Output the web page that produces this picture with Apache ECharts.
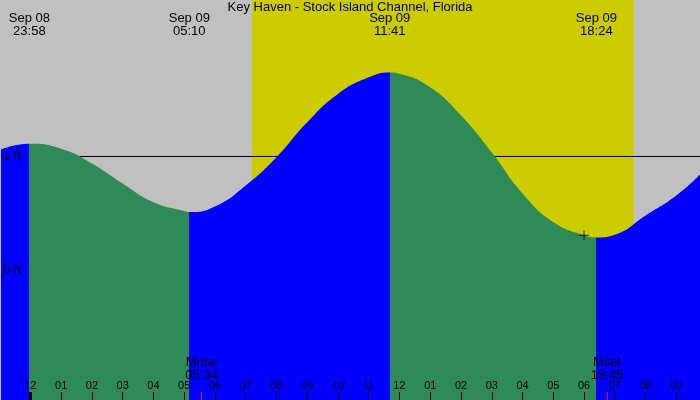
<!DOCTYPE html>
<html>
<head>
<meta charset="utf-8">
<title>Key Haven - Stock Island Channel, Florida</title>
<script src="https://cdn.jsdelivr.net/npm/echarts@6/dist/echarts.min.js"></script>
<style>
  html, body { margin: 0; padding: 0; background: #c0c0c0; }
  #main { width: 700px; height: 400px; }
</style>
</head>
<body>
<div id="main"></div>
<script>
// hours after Sep 09 00:00, heights in ft
const tideHours = [-0.955, -0.033, 1, 2, 3, 4, 5, 5.167, 6, 7, 8, 9, 10, 11, 11.683,
  12, 13, 14, 15, 16, 17, 18, 18.4, 19, 20, 21, 21.77];
const tideHeights = [1.061, 1.111, 1.068, 0.939, 0.763, 0.599, 0.522, 0.513, 0.561, 0.746, 0.994, 1.301, 1.550, 1.696, 1.739,
  1.728, 1.608, 1.360, 1.035, 0.675, 0.424, 0.307, 0.289, 0.313, 0.482, 0.658, 0.842];

// high / low tides (first one is a high)
const extremeHours = [-0.033, 5.167, 11.683, 18.4];
const extremeLabels = ['Sep 08\n23:58', 'Sep 09\n05:10', 'Sep 09\n11:41', 'Sep 09\n18:24'];

const hourTicks = [-1, 0, 1, 2, 3, 4, 5, 6, 7, 8, 9, 10, 11, 12, 13, 14, 15, 16, 17, 18, 19, 20, 21];
const hourLabels = ['11', '12', '01', '02', '03', '04', '05', '06', '07', '08', '09', '10', '11',
  '12', '01', '02', '03', '04', '05', '06', '07', '08', '09'];
const dayTicks = [0];

const moonHours = [5.567, 18.75];
const moonLabels = ['Mrise\n05:34', 'Mset\n18:45'];

const sunrise = 7.2;
const sunset = 19.61;
const datumLevels = [0, 1];
const markHour = 18;

const xMin = -0.955, xMax = 21.77;
const yMin = -1.14, yMax = 2.3754;

const FONT = 'Liberation Sans';
const RISING = '#0000ff';
const FALLING = '#2e8b57';

var chart = echarts.init(document.getElementById('main'));

const tideData = tideHours.map((h, i) => [h, tideHeights[i]]);
const markIdx = tideHours.indexOf(markHour);

// flood before a high, ebb after it
const pieces = [{ lt: extremeHours[0], color: RISING }];
extremeHours.forEach((h, i) => {
  const p = { gte: h, color: i % 2 === 0 ? FALLING : RISING };
  if (i + 1 < extremeHours.length) p.lt = extremeHours[i + 1];
  pieces.push(p);
});

const baseX = {
  type: 'value', min: xMin, max: xMax, z: 10,
  axisLine: { show: false, onZero: false },
  splitLine: { show: false }
};

chart.setOption({
  animation: false,
  title: {
    text: 'Key Haven - Stock Island Channel, Florida',
    left: 'center', top: 1, padding: 0,
    textStyle: { fontFamily: FONT, fontSize: 13, fontWeight: 'normal', color: '#000' }
  },
  grid: { left: 0, right: 0, top: 0, bottom: 0, show: true, backgroundColor: '#c0c0c0', borderWidth: 0 },
  visualMap: { show: false, type: 'piecewise', dimension: 0, seriesIndex: 0, pieces: pieces },
  xAxis: [
    Object.assign({}, baseX, {
      position: 'bottom',
      axisTick: { show: true, inside: true, length: 8, customValues: hourTicks, lineStyle: { color: '#000', width: 1 } },
      axisLabel: {
        inside: true, margin: 9, customValues: hourTicks,
        formatter: v => hourLabels[hourTicks.indexOf(v)],
        fontFamily: FONT, fontSize: 11, color: '#000'
      }
    }),
    Object.assign({}, baseX, {
      position: 'bottom',
      axisTick: { show: true, inside: true, length: 8, customValues: dayTicks, lineStyle: { color: '#000', width: 3 } },
      axisLabel: { show: false }
    }),
    Object.assign({}, baseX, {
      position: 'bottom',
      axisTick: { show: true, inside: true, length: 8, customValues: moonHours, lineStyle: { color: '#ff0000', width: 1 } },
      axisLabel: {
        inside: true, margin: 18, customValues: moonHours,
        formatter: v => moonLabels[moonHours.indexOf(v)],
        fontFamily: FONT, fontSize: 13, lineHeight: 13, color: '#000'
      }
    }),
    Object.assign({}, baseX, {
      position: 'top',
      axisTick: { show: false },
      axisLabel: {
        inside: true, margin: 12, customValues: extremeHours,
        formatter: v => extremeLabels[extremeHours.indexOf(v)],
        fontFamily: FONT, fontSize: 13, lineHeight: 13, color: '#000'
      }
    })
  ],
  yAxis: {
    type: 'value', min: yMin, max: yMax, z: 10,
    axisLine: { show: false, onZero: false }, axisTick: { show: false }, splitLine: { show: false },
    axisLabel: {
      inside: true, margin: 2, customValues: datumLevels,
      formatter: v => v + ' ft',
      fontFamily: FONT, fontSize: 13, color: '#000'
    }
  },
  series: [
    {
      name: 'tide',
      type: 'line',
      z: 3,
      data: tideData,
      smooth: 0.5,
      symbol: 'none',
      lineStyle: { width: 0 },
      areaStyle: { opacity: 1, origin: 'start' }
    },
    {
      name: 'datum',
      type: 'line',
      z: 2,
      data: [[xMin, datumLevels[1]], [xMax, datumLevels[1]]],
      symbol: 'none',
      lineStyle: { color: '#000', width: 1 },
      markArea: {
        silent: true,
        z: 1,
        itemStyle: { color: '#cccc00', opacity: 1 },
        data: [[{ xAxis: sunrise }, { xAxis: sunset }]]
      }
    },
    {
      name: 'mark',
      type: 'scatter',
      z: 4,
      data: [tideData[markIdx]],
      symbol: 'path://M0,5L10,5M5,0L5,10',
      symbolSize: 10,
      itemStyle: { color: 'none', borderColor: '#000', borderWidth: 1 }
    }
  ]
});
</script>
</body>
</html>
